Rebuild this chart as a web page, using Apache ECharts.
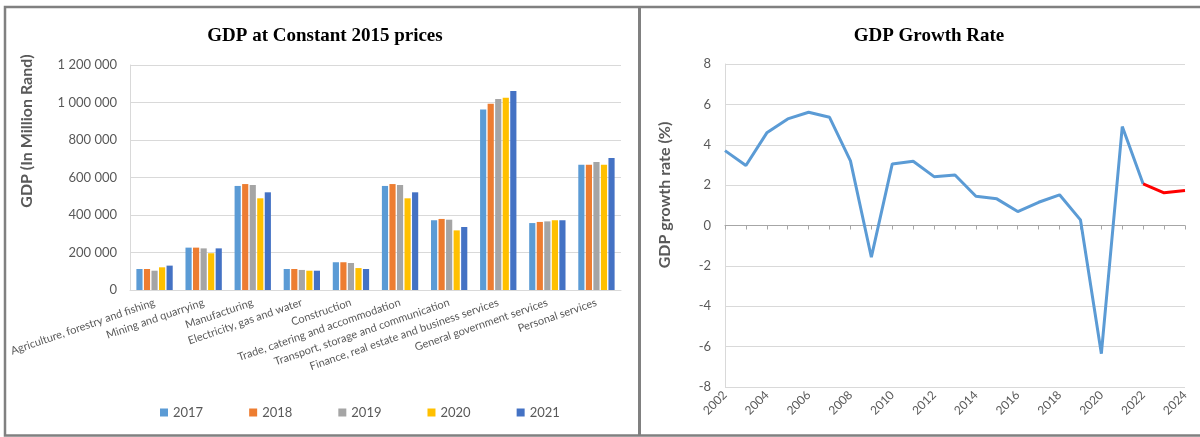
<!DOCTYPE html>
<html>
<head>
<meta charset="utf-8">
<title>GDP charts</title>
<script src="https://cdn.jsdelivr.net/npm/echarts@6/dist/echarts.min.js"></script>
<style>
  html, body { margin: 0; padding: 0; background: #fff; }
  #chart { width: 1200px; height: 437px; }
</style>
</head>
<body>
<div id="chart"></div>
<script>
// sectors (left chart)
var sectors = [
  'Agriculture, forestry and fishing',
  'Mining and quarrying',
  'Manufacturing',
  'Electricity, gas and water',
  'Construction',
  'Trade, catering and accommodation',
  'Transport, storage and communication',
  'Finance, real estate and business services',
  'General government services',
  'Personal services'
];
var gdp2017 = [112000, 226000, 555000, 112000, 148000, 555000, 372000, 963000, 357000, 668000];
var gdp2018 = [112000, 226000, 565000, 112000, 148000, 565000, 379000, 994000, 363000, 668000];
var gdp2019 = [103000, 222000, 560000, 107000, 144000, 560000, 375000, 1019000, 366000, 683000];
var gdp2020 = [121000, 196000, 489000, 103000, 117000, 489000, 318000, 1026000, 372000, 668000];
var gdp2021 = [130000, 222000, 521000, 103000, 112000, 521000, 336000, 1061000, 372000, 704000];

// growth rate (right chart)
var years = ['2002','2003','2004','2005','2006','2007','2008','2009','2010','2011','2012','2013',
             '2014','2015','2016','2017','2018','2019','2020','2021','2022','2023','2024'];
var growthActual = [3.71, 2.97, 4.59, 5.28, 5.61, 5.36, 3.2, -1.57, 3.05, 3.18, 2.42, 2.5,
                    1.45, 1.32, 0.69, 1.15, 1.52, 0.28, -6.35, 4.9, 2.06, null, null];
var growthForecast = [null, null, null, null, null, null, null, null, null, null, null, null,
                      null, null, null, null, null, null, null, null, 2.06, 1.62, 1.73];

var FONT = 'Lato, "Noto Sans", sans-serif';
var TITLE_FONT = '"Liberation Serif", "DejaVu Serif", serif';
var GREY = '#595959';

function spaced(v) {
  return String(v).replace(/\B(?=(\d{3})+(?!\d))/g, ' ');
}

function barSeries(name, data, color) {
  return {
    name: name, type: 'bar', xAxisIndex: 0, yAxisIndex: 0,
    data: data, barGap: '22%', barCategoryGap: '26%',
    itemStyle: { color: color }
  };
}

var chart = echarts.init(document.getElementById('chart'));
chart.setOption({
  animation: false,
  textStyle: { fontFamily: FONT },
  title: [
    { text: 'GDP at Constant 2015 prices', left: 320, top: 22, textAlign: 'center',
      textStyle: { fontFamily: TITLE_FONT, fontSize: 19, fontWeight: 'bold', color: '#000' } },
    { text: 'GDP Growth Rate', left: 924, top: 22, textAlign: 'center',
      textStyle: { fontFamily: TITLE_FONT, fontSize: 19, fontWeight: 'bold', color: '#000' } }
  ],
  legend: {
    left: 155, top: 401, itemWidth: 8, itemHeight: 8, itemGap: 46,
    icon: 'rect',
    textStyle: { fontFamily: FONT, fontSize: 13, color: GREY },
    data: ['2017', '2018', '2019', '2020', '2021']
  },
  grid: [
    { left: 130, top: 65, width: 491, height: 225 },
    { left: 725, top: 64, width: 460, height: 323 }
  ],
  xAxis: [
    { type: 'category', gridIndex: 0, data: sectors,
      axisLine: { lineStyle: { color: '#d9d9d9' } },
      axisTick: { alignWithLabel: false, length: 4, lineStyle: { color: '#d9d9d9' } },
      axisLabel: { interval: 0, rotate: 19, color: GREY, fontSize: 11, margin: 12 } },
    // zero line with yearly ticks
    { type: 'category', gridIndex: 1, data: years, boundaryGap: false,
      axisLine: { onZero: true, lineStyle: { color: '#a6a6a6' } },
      axisTick: { interval: 0, length: 4, lineStyle: { color: '#a6a6a6' } },
      axisLabel: { show: false } },
    // year labels at the bottom
    { type: 'category', gridIndex: 1, data: years, boundaryGap: false, position: 'bottom',
      axisLine: { show: false, onZero: false }, axisTick: { show: false },
      axisLabel: { interval: 1, rotate: 45, color: GREY, fontSize: 12, margin: 6 } }
  ],
  yAxis: [
    { type: 'value', gridIndex: 0, min: 0, max: 1200000, interval: 200000,
      axisLine: { show: true, lineStyle: { color: '#d9d9d9' } },
      splitLine: { lineStyle: { color: '#d9d9d9' } },
      axisLabel: { color: GREY, fontSize: 13, margin: 13, formatter: spaced } },
    { type: 'value', gridIndex: 1, min: -8, max: 8, interval: 2,
      axisLine: { show: true, lineStyle: { color: '#d9d9d9' } },
      splitLine: { lineStyle: { color: '#d9d9d9' } },
      axisLabel: { color: GREY, fontSize: 13, margin: 14 } }
  ],
  graphic: [
    { type: 'text', x: 27, y: 131, rotation: Math.PI / 2,
      style: { text: 'GDP (In Million Rand)', fill: GREY, font: 'bold 16px ' + FONT,
               textAlign: 'center', textVerticalAlign: 'middle' } },
    { type: 'text', x: 665, y: 195, rotation: Math.PI / 2,
      style: { text: 'GDP growth rate (%)', fill: GREY, font: 'bold 16px ' + FONT,
               textAlign: 'center', textVerticalAlign: 'middle' } },
    // panel frames
    { type: 'polyline', shape: { points: [[1200, 7], [5, 7], [5, 435.5], [1200, 435.5]] },
      style: { stroke: '#808080', lineWidth: 2.5, fill: null } },
    { type: 'line', shape: { x1: 639.5, y1: 7, x2: 639.5, y2: 436 },
      style: { stroke: '#808080', lineWidth: 3 } }
  ],
  series: [
    barSeries('2017', gdp2017, '#5b9bd5'),
    barSeries('2018', gdp2018, '#ed7d31'),
    barSeries('2019', gdp2019, '#a5a5a5'),
    barSeries('2020', gdp2020, '#ffc000'),
    barSeries('2021', gdp2021, '#4472c4'),
    { name: 'Growth', type: 'line', xAxisIndex: 1, yAxisIndex: 1, data: growthActual,
      showSymbol: false, symbol: 'none', lineStyle: { color: '#5b9bd5', width: 3 } },
    { name: 'Forecast', type: 'line', xAxisIndex: 1, yAxisIndex: 1, data: growthForecast,
      showSymbol: false, symbol: 'none', lineStyle: { color: '#ff0000', width: 3 } }
  ]
});
</script>
</body>
</html>
